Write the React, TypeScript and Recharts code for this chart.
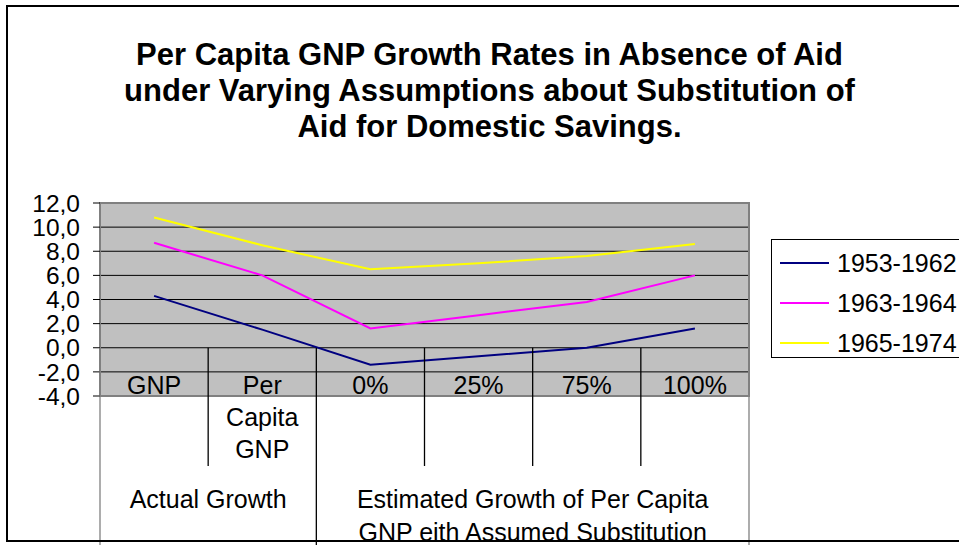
import React from 'react';
import { LineChart, Line, XAxis, YAxis, CartesianGrid, Legend, ReferenceArea } from 'recharts';

const categories = ['GNP', 'Per Capita GNP', '0%', '25%', '75%', '100%'];
const categoryLines = [['GNP'], ['Per', 'Capita', 'GNP'], ['0%'], ['25%'], ['75%'], ['100%']];
const series1953 = [4.3, 1.5, -1.4, -0.7, 0.0, 1.6];
const series1963 = [8.7, 6.0, 1.6, 2.7, 3.8, 6.0];
const series1965 = [10.8, 8.5, 6.5, 7.0, 7.6, 8.6];
const seriesNames = ['1953-1962', '1963-1964', '1965-1974'];
const seriesColors = ['#000080', '#FF00FF', '#FFFF00'];
const groupLabels = [['Actual Growth'], ['Estimated Growth of Per Capita', 'GNP eith Assumed Substitution']];
const groupStarts = [0, 2];
const groupSpans = [2, 4];
const yTicks = [-4, -2, 0, 2, 4, 6, 8, 10, 12];
const titleLines = [
  'Per Capita GNP Growth Rates in Absence of Aid',
  'under Varying Assumptions about Substitution of',
  'Aid for Domestic Savings.',
];

const data = categories.map((c, i) => ({
  cat: c,
  s1: series1953[i],
  s2: series1963[i],
  s3: series1965[i],
}));

const FONT = '"Liberation Sans", Arial, sans-serif';
const W = 959;
const H = 545;
const MARGIN = { top: 203, right: 210, bottom: 0, left: 0 };
const X_AXIS_H = 149;
const PLOT_H = H - MARGIN.top - MARGIN.bottom - X_AXIS_H;
const Y_MIN = -4;
const Y_MAX = 12;

const CategoryTick = (props: any) => {
  const { x, y, index, width, visibleTicksCount } = props;
  const count = visibleTicksCount || categories.length;
  const half = width / count / 2;
  const zeroY = y - ((0 - Y_MIN) / (Y_MAX - Y_MIN)) * PLOT_H;
  const gi = groupStarts.indexOf(index);
  const isGroupStart = gi >= 0;
  const lines = categoryLines[index] || [];
  const els: any[] = [];
  lines.forEach((t, i) => {
    els.push(
      <text key={'t' + i} x={x} y={y - 2 + i * 32} textAnchor="middle" fontSize={25} fontFamily={FONT} fill="#000">
        {t}
      </text>
    );
  });
  const leftX = x - half;
  els.push(
    <line key="ld" x1={leftX} x2={leftX} y1={zeroY} y2={isGroupStart ? y + X_AXIS_H : y + 70}
      stroke={index === 0 ? '#808080' : '#000'} strokeWidth={1.3} />
  );
  if (index === count - 1) {
    const rx = x + half;
    els.push(<line key="rd" x1={rx} x2={rx} y1={zeroY} y2={y + X_AXIS_H} stroke="#808080" strokeWidth={1.3} />);
  }
  if (isGroupStart) {
    const cx = x - half + groupSpans[gi] * half;
    groupLabels[gi].forEach((t, i) => {
      els.push(
        <text key={'g' + i} x={cx} y={y + 112 + i * 33} textAnchor="middle" fontSize={25} fontFamily={FONT} fill="#000">
          {t}
        </text>
      );
    });
  }
  return <g>{els}</g>;
};

const LegendContent = (props: any) => {
  const { payload } = props;
  return (
    <div style={{ position: 'relative', width: 200, height: 119, border: '1px solid #000', boxSizing: 'border-box', background: '#fff', fontFamily: FONT }}>
      {(payload || []).map((p: any, i: number) => (
        <div key={i} style={{ position: 'absolute', left: 0, top: 3 + i * 40, height: 40, display: 'flex', alignItems: 'center' }}>
          <div style={{ width: 49, height: 2, marginLeft: 8, background: p.color }} />
          <span style={{ marginLeft: 8, fontSize: 25, lineHeight: '25px', color: '#000', whiteSpace: 'nowrap' }}>{p.value}</span>
        </div>
      ))}
    </div>
  );
};

export default function App() {
  return (
    <div style={{ position: 'fixed', left: 0, top: 0, width: W, height: H, overflow: 'hidden', background: '#fff', fontFamily: FONT }}>
      <LineChart width={W} height={H} data={data} margin={MARGIN}>
        <CartesianGrid vertical={false} stroke="#000" fill="#C0C0C0" fillOpacity={1} />
        <XAxis dataKey="cat" scale="band" tickLine={false} axisLine={false} tickSize={0} tickMargin={0}
          height={X_AXIS_H} interval={0} tick={<CategoryTick />} />
        <YAxis domain={[Y_MIN, Y_MAX]} ticks={yTicks} interval={0} width={100} tickSize={7} tickMargin={13}
          tickFormatter={(v: number) => v.toFixed(1).replace('.', ',')}
          tick={{ fill: '#000', fontSize: 24.5, fontFamily: FONT }}
          tickLine={{ stroke: '#000' }} axisLine={{ stroke: '#808080' }} />
        <ReferenceArea y1={Y_MIN} y2={Y_MAX} fill="none" fillOpacity={0} stroke="#808080" strokeWidth={2} />
        {[series1953, series1963, series1965].map((_, i) => (
          <Line key={i} type="linear" dataKey={'s' + (i + 1)} name={seriesNames[i]} stroke={seriesColors[i]}
            strokeWidth={2} dot={false} activeDot={false} isAnimationActive={false} />
        ))}
        <Legend layout="vertical" align="center" verticalAlign="middle" content={<LegendContent />}
          wrapperStyle={{ left: 771, top: 239, width: 200 }} />
      </LineChart>
      <div style={{ position: 'absolute', left: 20, top: 37, width: 939, textAlign: 'center', fontSize: 31, fontWeight: 'bold', lineHeight: '36px', color: '#000', pointerEvents: 'none' }}>
        {titleLines.map((t, i) => <div key={i}>{t}</div>)}
      </div>
      <div style={{ position: 'absolute', left: 6, top: 5, width: 1000, height: 533, borderTop: '2px solid #000', borderLeft: '2px solid #000', borderBottom: '2px solid #000', pointerEvents: 'none' }} />
    </div>
  );
}
